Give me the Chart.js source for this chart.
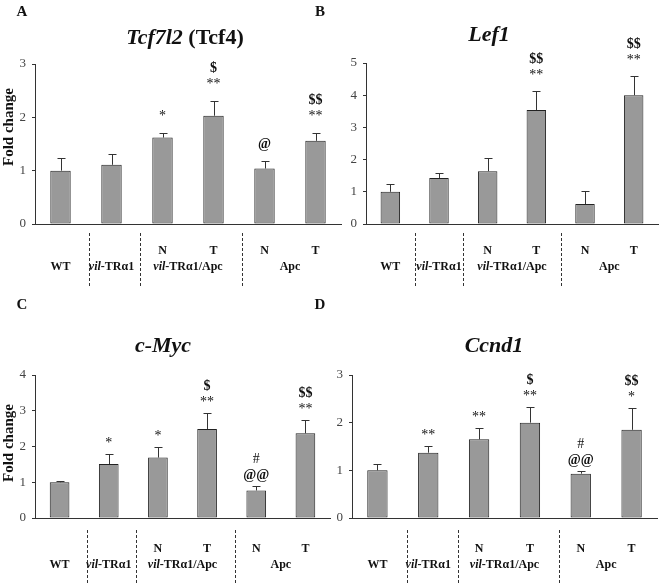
<!DOCTYPE html>
<html>
<head>
<meta charset="utf-8">
<script src="https://cdn.jsdelivr.net/npm/chart.js@4.4.1/dist/chart.umd.min.js"></script>
<style>
  html, body { margin: 0; padding: 0; background: #fff; }
  #wrap { position: relative; width: 662px; height: 585px; }
  #wrap canvas { position: absolute; left: 0; top: 0; }
</style>
</head>
<body>
<div id="wrap">
  <canvas id="chartA" width="662" height="585"></canvas>
  <canvas id="chartB" width="662" height="585"></canvas>
  <canvas id="chartC" width="662" height="585"></canvas>
  <canvas id="chartD" width="662" height="585"></canvas>
</div>
<script>
// ---- data ----
const categories = ['WT', 'vil-TRα1', 'vil-TRα1/Apc N', 'vil-TRα1/Apc T', 'Apc N', 'Apc T'];

const tcf4Values = [1.00, 1.11, 1.62, 2.03, 1.04, 1.56];
const tcf4Errors = [0.24, 0.20, 0.08, 0.27, 0.14, 0.14];
const tcf4Marks  = [[], [], ['*'], ['**', '$'], ['@'], ['**', '$$']];
const tcf4Ticks  = [0, 1, 2, 3];

const lef1Values = [1.00, 1.43, 1.64, 3.54, 0.62, 4.00];
const lef1Errors = [0.25, 0.16, 0.41, 0.58, 0.42, 0.61];
const lef1Marks  = [[], [], [], ['**', '$$'], [], ['**', '$$']];
const lef1Ticks  = [0, 1, 2, 3, 4, 5];

const mycValues = [1.00, 1.51, 1.69, 2.49, 0.77, 2.37];
const mycErrors = [0.04, 0.28, 0.29, 0.44, 0.12, 0.36];
const mycMarks  = [[], ['*'], ['*'], ['**', '$'], ['@@', '#'], ['**', '$$']];
const mycTicks  = [0, 1, 2, 3, 4];

const ccnd1Values = [1.00, 1.37, 1.65, 2.00, 0.93, 1.85];
const ccnd1Errors = [0.13, 0.15, 0.23, 0.33, 0.06, 0.46];
const ccnd1Marks  = [[], ['**'], ['**'], ['**', '$'], ['@@', '#'], ['*', '$$']];
const ccnd1Ticks  = [0, 1, 2, 3];

// ---- styles ----
const SERIF = "'Liberation Serif', 'Times New Roman', serif";
const INK = '#333333';
const BAR_EDGE = '#222222';
const BAR_FILL = '#999999';
Chart.defaults.font.family = SERIF;

// draws a line made of [text, italic] parts centred on cx
function drawParts(ctx, parts, cx, y, size) {
    const fonts = parts.map(p => (p[1] ? 'italic ' : '') + 'bold ' + size + 'px ' + SERIF);
    let total = 0;
    const widths = parts.map((p, i) => {
        ctx.font = fonts[i];
        const w = ctx.measureText(p[0]).width;
        total += w;
        return w;
    });
    let x = cx - total / 2;
    ctx.textAlign = 'left';
    parts.forEach((p, i) => {
        ctx.font = fonts[i];
        ctx.fillText(p[0], x, y);
        x += widths[i];
    });
}

const decorPlugin = {
    id: 'decor',
    afterDatasetsDraw(chart, args, opts) {
        const ctx = chart.ctx;
        const xs = chart.scales.x;
        const ys = chart.scales.y;
        const meta = chart.getDatasetMeta(0);
        const values = chart.data.datasets[0].data;

        ctx.save();
        ctx.strokeStyle = INK;
        ctx.fillStyle = '#111';
        ctx.lineWidth = 1;

        // error bars (upper only)
        meta.data.forEach((bar, i) => {
            const x = Math.round(bar.x) + 0.5;
            const yTop = Math.round(ys.getPixelForValue(values[i] + opts.errors[i])) + 0.5;
            ctx.beginPath();
            ctx.moveTo(x, bar.y);
            ctx.lineTo(x, yTop);
            ctx.moveTo(x - 4, yTop);
            ctx.lineTo(x + 4, yTop);
            ctx.stroke();

            // significance marks, stacked upward
            ctx.textAlign = 'center';
            ctx.textBaseline = 'middle';
            opts.marks[i].forEach((m, k) => {
                const bold = m[0] === '$' || m[0] === '@';
                ctx.font = (bold ? 'bold ' : '') + '14px ' + SERIF;
                ctx.fillText(m, bar.x, yTop - opts.markGap - k * 16);
            });
        });

        // title
        ctx.textBaseline = 'alphabetic';
        drawParts(ctx, opts.title, opts.titleX, opts.titleY, 22);

        // panel letter
        ctx.textAlign = 'center';
        ctx.font = 'bold 15px ' + SERIF;
        ctx.fillText(opts.letter, opts.letterX, opts.letterY);

        // y axis title
        if (opts.yLabel) {
            ctx.save();
            ctx.translate(opts.yLabelX, opts.yLabelY);
            ctx.rotate(-Math.PI / 2);
            ctx.textAlign = 'center';
            ctx.textBaseline = 'middle';
            ctx.font = 'bold 15px ' + SERIF;
            ctx.fillText(opts.yLabel, 0, 0);
            ctx.restore();
        }

        // group labels under the axis
        const px = i => xs.getPixelForValue(i);
        ['N', 'T', 'N', 'T'].forEach((t, k) => {
            drawParts(ctx, [[t, false]], px(k + 2), opts.subY, 12);
        });
        drawParts(ctx, [['WT', false]], px(0), opts.groupY, 12);
        drawParts(ctx, [['vil', true], ['-TRα1', false]], px(1), opts.groupY, 12);
        drawParts(ctx, [['vil', true], ['-TRα1/Apc', false]], (px(2) + px(3)) / 2, opts.groupY, 12);
        drawParts(ctx, [['Apc', false]], (px(4) + px(5)) / 2, opts.groupY, 12);

        // dashed separators
        ctx.setLineDash([3, 2]);
        [[0, 1], [1, 2], [3, 4]].forEach(([a, b]) => {
            const x = Math.round((px(a) + px(b)) / 2 + opts.dashShift) + 0.5;
            ctx.beginPath();
            ctx.moveTo(x, opts.dashTop);
            ctx.lineTo(x, opts.dashBottom);
            ctx.stroke();
        });
        ctx.restore();
    }
};

function makeChart(id, values, errors, marks, ticks, panel) {
    const yMax = ticks[ticks.length - 1];
    return new Chart(document.getElementById(id), {
        type: 'bar',
        data: {
            labels: categories,
            datasets: [{
                data: values,
                backgroundColor: BAR_FILL,
                borderColor: BAR_EDGE,
                borderWidth: 1,
                borderSkipped: false,
                barPercentage: 0.4,
                categoryPercentage: 1.0
            }]
        },
        options: {
            responsive: false,
            animation: false,
            events: [],
            layout: {
                padding: { left: 0, top: panel.top, right: 662 - panel.right, bottom: 585 - panel.bottom }
            },
            plugins: {
                legend: { display: false },
                tooltip: { enabled: false },
                decor: Object.assign({ errors, marks }, panel)
            },
            scales: {
                x: {
                    grid: { display: false },
                    ticks: { display: false },
                    border: { display: true, color: INK, width: 1 },
                    afterFit: s => { s.height = 0; }
                },
                y: {
                    min: 0,
                    max: yMax,
                    afterBuildTicks: s => { s.ticks = ticks.map(v => ({ value: v })); },
                    ticks: { color: '#444', font: { size: 13, family: SERIF }, padding: 6 },
                    grid: { display: true, drawOnChartArea: false, drawTicks: true, tickLength: 3, color: INK },
                    border: { display: true, color: INK, width: 1 },
                    afterFit: s => { s.width = panel.axisX; }
                }
            }
        },
        plugins: [decorPlugin]
    });
}

makeChart('chartA', tcf4Values, tcf4Errors, tcf4Marks, tcf4Ticks, {
    axisX: 35, top: 64, bottom: 224, right: 341, markGap: 17,
    title: [['Tcf7l2', true], [' (Tcf4)', false]], titleX: 185, titleY: 44,
    letter: 'A', letterX: 22, letterY: 16,
    yLabel: 'Fold change', yLabelX: 9, yLabelY: 127,
    subY: 254, groupY: 270, dashTop: 233, dashBottom: 286, dashShift: 3
});
makeChart('chartB', lef1Values, lef1Errors, lef1Marks, lef1Ticks, {
    axisX: 366, top: 63, bottom: 224, right: 658, markGap: 16,
    title: [['Lef1', true]], titleX: 489, titleY: 41,
    letter: 'B', letterX: 320, letterY: 16,
    subY: 254, groupY: 270, dashTop: 233, dashBottom: 286, dashShift: 0
});
makeChart('chartC', mycValues, mycErrors, mycMarks, mycTicks, {
    axisX: 35, top: 375, bottom: 518, right: 330, markGap: 11,
    title: [['c-Myc', true]], titleX: 163, titleY: 352,
    letter: 'C', letterX: 22, letterY: 309,
    yLabel: 'Fold change', yLabelX: 9, yLabelY: 443,
    subY: 552, groupY: 568, dashTop: 530, dashBottom: 585, dashShift: 3
});
makeChart('chartD', ccnd1Values, ccnd1Errors, ccnd1Marks, ccnd1Ticks, {
    axisX: 352, top: 375, bottom: 518, right: 657, markGap: 11,
    title: [['Ccnd1', true]], titleX: 494, titleY: 352,
    letter: 'D', letterX: 320, letterY: 309,
    subY: 552, groupY: 568, dashTop: 530, dashBottom: 585, dashShift: 4
});
</script>
</body>
</html>
